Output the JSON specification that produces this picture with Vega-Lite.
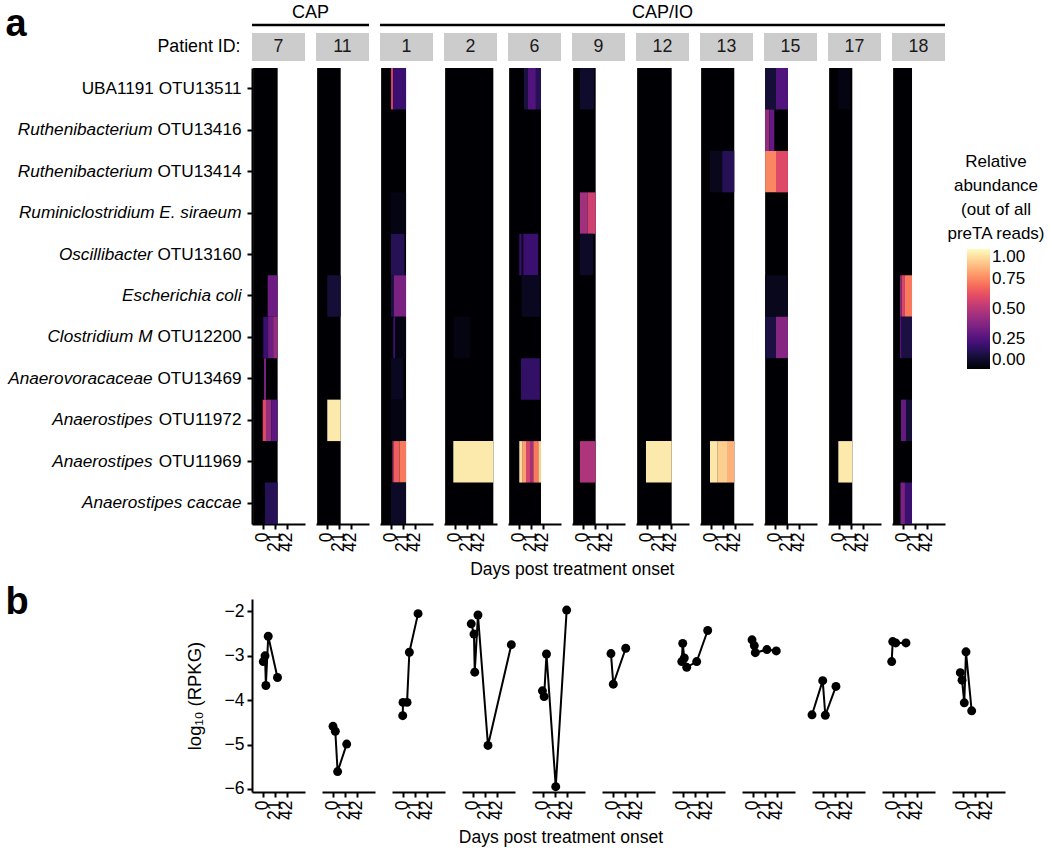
{
  "$schema": "https://vega.github.io/schema/vega-lite/v6.json",
  "padding": {"left": 5, "top": 0, "right": 0, "bottom": 0},
  "config": {
    "font": "Liberation Sans",
    "view": {"stroke": null},
    "axis": {"labelFont": "Liberation Sans", "titleFont": "Liberation Sans", "labelFontSize": 17.5, "titleFontSize": 18, "labelColor": "#000000", "titleColor": "#000000", "titleFontWeight": "normal", "domainColor": "#000000", "tickColor": "#000000", "domainWidth": 2, "tickWidth": 2, "tickSize": 5, "grid": false, "labelOverlap": false},
    "legend": {"titleFont": "Liberation Sans", "labelFont": "Liberation Sans", "titleFontSize": 17, "labelFontSize": 17, "titleFontWeight": "normal", "titleColor": "#000000", "labelColor": "#000000", "gradientLength": 120, "gradientThickness": 23, "titleAlign": "center", "titleAnchor": "middle", "titleLineHeight": 24, "titleLimit": 300, "titlePadding": 6, "labelOverlap": false},
    "title": {"font": "Liberation Sans", "fontWeight": "normal", "color": "#000000"}
  },
  "datasets": {
    "strips": [
      {"p": "7", "row": "strip"}, {"p": "11", "row": "strip"}, {"p": "1", "row": "strip"}, {"p": "2", "row": "strip"}, {"p": "6", "row": "strip"}, {"p": "9", "row": "strip"}, {"p": "12", "row": "strip"}, {"p": "13", "row": "strip"}, {"p": "15", "row": "strip"}, {"p": "17", "row": "strip"}, {"p": "18", "row": "strip"}
    ],
    "groups": [
      {"g": "CAP", "first": "7", "last": "11", "row": "group"},
      {"g": "CAP/IO", "first": "1", "last": "18", "row": "group"}
    ],
    "heat": [
      {"k": "bg", "p": "7", "d0": -17.5, "d1": 26, "v": 0},
      {"k": "bg", "p": "11", "d0": -17.5, "d1": 24.3, "v": 0},
      {"k": "bg", "p": "1", "d0": -17.5, "d1": 26.7, "v": 0},
      {"k": "bg", "p": "2", "d0": -17.5, "d1": 68, "v": 0},
      {"k": "bg", "p": "6", "d0": -17.5, "d1": 39, "v": 0},
      {"k": "bg", "p": "9", "d0": -17.5, "d1": 22.5, "v": 0},
      {"k": "bg", "p": "12", "d0": -17.5, "d1": 43.8, "v": 0},
      {"k": "bg", "p": "13", "d0": -17.5, "d1": 41.3, "v": 0},
      {"k": "bg", "p": "15", "d0": -17.5, "d1": 23, "v": 0},
      {"k": "bg", "p": "17", "d0": -17.5, "d1": 23.6, "v": 0},
      {"k": "bg", "p": "18", "d0": -17.5, "d1": 16, "v": 0},

      {"k": "c", "p": "7", "t": "Escherichia coli", "d0": 8.3, "d1": 26, "v": 0.32},
      {"k": "c", "p": "7", "t": "Clostridium M OTU12200", "d0": 0.5, "d1": 9, "v": 0.2},
      {"k": "c", "p": "7", "t": "Clostridium M OTU12200", "d0": 9, "d1": 18, "v": 0.32},
      {"k": "c", "p": "7", "t": "Clostridium M OTU12200", "d0": 18, "d1": 26, "v": 0.42},
      {"k": "c", "p": "7", "t": "Anaerovoracaceae OTU13469", "d0": 1.8, "d1": 5.3, "v": 0.35},
      {"k": "c", "p": "7", "t": "Anaerostipes OTU11972", "d0": -0.5, "d1": 5.3, "v": 0.6},
      {"k": "c", "p": "7", "t": "Anaerostipes OTU11972", "d0": 5.3, "d1": 15, "v": 0.42},
      {"k": "c", "p": "7", "t": "Anaerostipes OTU11972", "d0": 15, "d1": 26, "v": 0.28},
      {"k": "c", "p": "7", "t": "Anaerostipes caccae", "d0": 3.5, "d1": 26, "v": 0.15},

      {"k": "c", "p": "11", "t": "Escherichia coli", "d0": 0.5, "d1": 24.3, "v": 0.1},
      {"k": "c", "p": "11", "t": "Anaerostipes OTU11972", "d0": 0.5, "d1": 24.3, "v": 0.96},

      {"k": "c", "p": "1", "t": "UBA1191 OTU13511", "d0": 0, "d1": 4.1, "v": 0.56},
      {"k": "c", "p": "1", "t": "UBA1191 OTU13511", "d0": 4.1, "d1": 26.7, "v": 0.2},
      {"k": "c", "p": "1", "t": "Ruminiclostridium E. siraeum", "d0": 0, "d1": 26.7, "v": 0.03},
      {"k": "c", "p": "1", "t": "Oscillibacter OTU13160", "d0": 0, "d1": 24, "v": 0.15},
      {"k": "c", "p": "1", "t": "Escherichia coli", "d0": 0, "d1": 5, "v": 0.12},
      {"k": "c", "p": "1", "t": "Escherichia coli", "d0": 5, "d1": 26.7, "v": 0.35},
      {"k": "c", "p": "1", "t": "Clostridium M OTU12200", "d0": 4.1, "d1": 7.1, "v": 0.22},
      {"k": "c", "p": "1", "t": "Clostridium M OTU12200", "d0": 7.1, "d1": 26.7, "v": 0.03},
      {"k": "c", "p": "1", "t": "Anaerovoracaceae OTU13469", "d0": 0, "d1": 22, "v": 0.06},
      {"k": "c", "p": "1", "t": "Anaerostipes OTU11972", "d0": 0, "d1": 26.7, "v": 0.03},
      {"k": "c", "p": "1", "t": "Anaerostipes OTU11969", "d0": 2.5, "d1": 4.5, "v": 0.45},
      {"k": "c", "p": "1", "t": "Anaerostipes OTU11969", "d0": 4.5, "d1": 15, "v": 0.66},
      {"k": "c", "p": "1", "t": "Anaerostipes OTU11969", "d0": 15, "d1": 26.7, "v": 0.72},
      {"k": "c", "p": "1", "t": "Anaerostipes caccae", "d0": 0, "d1": 26.7, "v": 0.07},

      {"k": "c", "p": "2", "t": "Clostridium M OTU12200", "d0": -3, "d1": 26.6, "v": 0.03},
      {"k": "c", "p": "2", "t": "Anaerostipes OTU11969", "d0": -3, "d1": 68, "v": 0.96},

      {"k": "c", "p": "6", "t": "UBA1191 OTU13511", "d0": 8.9, "d1": 16, "v": 0.12},
      {"k": "c", "p": "6", "t": "UBA1191 OTU13511", "d0": 16, "d1": 30, "v": 0.25},
      {"k": "c", "p": "6", "t": "UBA1191 OTU13511", "d0": 30, "d1": 39, "v": 0.15},
      {"k": "c", "p": "6", "t": "Oscillibacter OTU13160", "d0": 0.5, "d1": 4.8, "v": 0.2},
      {"k": "c", "p": "6", "t": "Oscillibacter OTU13160", "d0": 4.8, "d1": 7.6, "v": 0.05},
      {"k": "c", "p": "6", "t": "Oscillibacter OTU13160", "d0": 7.6, "d1": 34, "v": 0.2},
      {"k": "c", "p": "6", "t": "Escherichia coli", "d0": 4.8, "d1": 37, "v": 0.06},
      {"k": "c", "p": "6", "t": "Anaerovoracaceae OTU13469", "d0": 3.5, "d1": 37, "v": 0.18},
      {"k": "c", "p": "6", "t": "Anaerostipes OTU11969", "d0": 0.5, "d1": 6.6, "v": 0.93},
      {"k": "c", "p": "6", "t": "Anaerostipes OTU11969", "d0": 6.6, "d1": 12.4, "v": 0.8},
      {"k": "c", "p": "6", "t": "Anaerostipes OTU11969", "d0": 12.4, "d1": 19.5, "v": 0.58},
      {"k": "c", "p": "6", "t": "Anaerostipes OTU11969", "d0": 19.5, "d1": 25.4, "v": 0.45},
      {"k": "c", "p": "6", "t": "Anaerostipes OTU11969", "d0": 25.4, "d1": 34.2, "v": 0.72},
      {"k": "c", "p": "6", "t": "Anaerostipes OTU11969", "d0": 34.2, "d1": 39, "v": 0.9},

      {"k": "c", "p": "9", "t": "UBA1191 OTU13511", "d0": -5.3, "d1": 19.5, "v": 0.08},
      {"k": "c", "p": "9", "t": "Ruminiclostridium E. siraeum", "d0": -5.3, "d1": 8, "v": 0.45},
      {"k": "c", "p": "9", "t": "Ruminiclostridium E. siraeum", "d0": 8, "d1": 22.5, "v": 0.56},
      {"k": "c", "p": "9", "t": "Oscillibacter OTU13160", "d0": -5.3, "d1": 18, "v": 0.07},
      {"k": "c", "p": "9", "t": "Anaerostipes OTU11969", "d0": -5.3, "d1": 22.5, "v": 0.48},

      {"k": "c", "p": "12", "t": "Anaerostipes OTU11969", "d0": -1.8, "d1": 43.8, "v": 0.96},

      {"k": "c", "p": "13", "t": "Ruthenibacterium OTU13414", "d0": -1.8, "d1": 20, "v": 0.05},
      {"k": "c", "p": "13", "t": "Ruthenibacterium OTU13414", "d0": 20, "d1": 41.3, "v": 0.15},
      {"k": "c", "p": "13", "t": "Anaerostipes OTU11969", "d0": -1.8, "d1": 12, "v": 0.95},
      {"k": "c", "p": "13", "t": "Anaerostipes OTU11969", "d0": 12, "d1": 30, "v": 0.9},
      {"k": "c", "p": "13", "t": "Anaerostipes OTU11969", "d0": 30, "d1": 41.3, "v": 0.84},

      {"k": "c", "p": "15", "t": "UBA1191 OTU13511", "d0": -17.5, "d1": 1.8, "v": 0.1},
      {"k": "c", "p": "15", "t": "UBA1191 OTU13511", "d0": 1.8, "d1": 23, "v": 0.25},
      {"k": "c", "p": "15", "t": "Ruthenibacterium OTU13416", "d0": -17.5, "d1": -10, "v": 0.42},
      {"k": "c", "p": "15", "t": "Ruthenibacterium OTU13416", "d0": -10, "d1": -1.2, "v": 0.3},
      {"k": "c", "p": "15", "t": "Ruthenibacterium OTU13414", "d0": -17.5, "d1": 1.8, "v": 0.75},
      {"k": "c", "p": "15", "t": "Ruthenibacterium OTU13414", "d0": 1.8, "d1": 23, "v": 0.6},
      {"k": "c", "p": "15", "t": "Escherichia coli", "d0": -17.5, "d1": 23, "v": 0.05},
      {"k": "c", "p": "15", "t": "Clostridium M OTU12200", "d0": -17.5, "d1": 1.8, "v": 0.12},
      {"k": "c", "p": "15", "t": "Clostridium M OTU12200", "d0": 1.8, "d1": 23, "v": 0.38},

      {"k": "c", "p": "17", "t": "UBA1191 OTU13511", "d0": -1.2, "d1": 19.5, "v": 0.03},
      {"k": "c", "p": "17", "t": "Anaerostipes OTU11969", "d0": -1.2, "d1": 23.6, "v": 0.96},

      {"k": "c", "p": "18", "t": "Escherichia coli", "d0": -5.3, "d1": -2.4, "v": 0.4},
      {"k": "c", "p": "18", "t": "Escherichia coli", "d0": -2.4, "d1": 3.5, "v": 0.58},
      {"k": "c", "p": "18", "t": "Escherichia coli", "d0": 3.5, "d1": 16, "v": 0.72},
      {"k": "c", "p": "18", "t": "Clostridium M OTU12200", "d0": -5.3, "d1": -2.4, "v": 0.25},
      {"k": "c", "p": "18", "t": "Clostridium M OTU12200", "d0": -2.4, "d1": 16, "v": 0.12},
      {"k": "c", "p": "18", "t": "Anaerostipes OTU11972", "d0": -3.5, "d1": 5.3, "v": 0.3},
      {"k": "c", "p": "18", "t": "Anaerostipes OTU11972", "d0": 5.3, "d1": 16, "v": 0.1},
      {"k": "c", "p": "18", "t": "Anaerostipes caccae", "d0": -4.5, "d1": 3.5, "v": 0.35},
      {"k": "c", "p": "18", "t": "Anaerostipes caccae", "d0": 3.5, "d1": 16, "v": 0.2}
    ],
    "rpkg": [
      {"p": "7", "day": 0.5, "val": -3.13}, {"p": "7", "day": 3.6, "val": -3.0}, {"p": "7", "day": 5.1, "val": -3.67}, {"p": "7", "day": 9.3, "val": -2.56}, {"p": "7", "day": 25.7, "val": -3.49},
      {"p": "11", "day": 0, "val": -4.59}, {"p": "11", "day": 4.1, "val": -4.7}, {"p": "11", "day": 8.2, "val": -5.61}, {"p": "11", "day": 24.3, "val": -4.99},
      {"p": "1", "day": -0.5, "val": -4.35}, {"p": "1", "day": 0, "val": -4.05}, {"p": "1", "day": 7.2, "val": -4.05}, {"p": "1", "day": 11.3, "val": -2.92}, {"p": "1", "day": 26.7, "val": -2.05},
      {"p": "2", "day": -3.1, "val": -2.28}, {"p": "2", "day": 1.7, "val": -2.51}, {"p": "2", "day": 3.1, "val": -3.37}, {"p": "2", "day": 8.8, "val": -2.08}, {"p": "2", "day": 26.6, "val": -5.02}, {"p": "2", "day": 68, "val": -2.75},
      {"p": "6", "day": -1, "val": -3.79}, {"p": "6", "day": 2, "val": -3.92}, {"p": "6", "day": 6.2, "val": -2.96}, {"p": "6", "day": 22.6, "val": -5.95}, {"p": "6", "day": 42, "val": -1.97},
      {"p": "9", "day": -3.6, "val": -2.95}, {"p": "9", "day": 0.5, "val": -3.64}, {"p": "9", "day": 22.6, "val": -2.83},
      {"p": "12", "day": -2.2, "val": -3.13}, {"p": "12", "day": -0.5, "val": -2.72}, {"p": "12", "day": 2.3, "val": -3.05}, {"p": "12", "day": 6.6, "val": -3.26}, {"p": "12", "day": 24.3, "val": -3.13}, {"p": "12", "day": 43.8, "val": -2.43},
      {"p": "13", "day": -1.7, "val": -2.64}, {"p": "13", "day": 2.3, "val": -2.77}, {"p": "13", "day": 4.1, "val": -2.93}, {"p": "13", "day": 24.7, "val": -2.86}, {"p": "13", "day": 41.3, "val": -2.89},
      {"p": "15", "day": -19.5, "val": -4.33}, {"p": "15", "day": -0.5, "val": -3.56}, {"p": "15", "day": 4.1, "val": -4.34}, {"p": "15", "day": 23, "val": -3.69},
      {"p": "17", "day": -2.3, "val": -3.13}, {"p": "17", "day": -0.5, "val": -2.68}, {"p": "17", "day": 4.8, "val": -2.71}, {"p": "17", "day": 23, "val": -2.71},
      {"p": "18", "day": -4.8, "val": -3.38}, {"p": "18", "day": -1.7, "val": -3.55}, {"p": "18", "day": 2.3, "val": -4.06}, {"p": "18", "day": 5.3, "val": -2.91}, {"p": "18", "day": 15.4, "val": -4.24}
    ]
  },
  "spacing": 4,
  "vconcat": [
    {
      "width": 693,
      "height": 64,
      "layer": [
        {
          "data": {"name": "strips"},
          "mark": {"type": "rect", "fill": "#cccccc"},
          "encoding": {
            "x": {"field": "p", "type": "nominal", "scale": {"domain": ["7", "11", "1", "2", "6", "9", "12", "13", "15", "17", "18"], "paddingInner": 0.171875, "paddingOuter": 0}, "axis": null},
            "y": {"field": "row", "type": "nominal", "scale": {"domain": ["group", "strip"], "paddingInner": 0.1515, "paddingOuter": 0.0455, "align": 0},
              "axis": {"title": "a", "labelExpr": "datum.value == 'strip' ? 'Patient ID:' : ''", "ticks": false, "domain": false, "labelPadding": 12, "labelFontSize": 17.8, "titleAngle": 0, "titleFontSize": 38, "titleFontWeight": "bold", "titleAlign": "left", "titleBaseline": "alphabetic", "titleX": -247, "titleY": 35}}
          }
        },
        {
          "data": {"name": "strips"},
          "mark": {"type": "text", "fontSize": 17.8, "color": "#1a1a1a"},
          "encoding": {
            "x": {"field": "p", "type": "nominal"},
            "y": {"field": "row", "type": "nominal"},
            "text": {"field": "p"}
          }
        },
        {
          "data": {"name": "groups"},
          "mark": {"type": "rule", "color": "#000000", "strokeWidth": 2.5},
          "encoding": {
            "x": {"field": "first", "type": "nominal", "bandPosition": 0},
            "x2": {"field": "last", "bandPosition": 1},
            "y": {"field": "row", "type": "nominal", "bandPosition": 0.89}
          }
        },
        {
          "data": {"name": "groups"},
          "transform": [{"filter": "datum.g == 'CAP'"}],
          "mark": {"type": "text", "fontSize": 18, "color": "#000000"},
          "encoding": {
            "x": {"field": "first", "type": "nominal", "bandPosition": 1.1038},
            "y": {"field": "row", "type": "nominal", "bandPosition": 0.45},
            "text": {"field": "g"}
          }
        },
        {
          "data": {"name": "groups"},
          "transform": [{"filter": "datum.g == 'CAP/IO'"}],
          "mark": {"type": "text", "fontSize": 18, "color": "#000000"},
          "encoding": {
            "x": {"field": "first", "type": "nominal", "bandPosition": 5.33},
            "y": {"field": "row", "type": "nominal", "bandPosition": 0.45},
            "text": {"field": "g"}
          }
        }
      ]
    },
    {
      "data": {"name": "heat"},
      "title": {"text": "Days post treatment onset", "orient": "bottom", "anchor": "middle", "fontSize": 17.5, "offset": 10, "dx": 96},
      "facet": {"column": {"field": "p", "type": "nominal", "sort": ["7", "11", "1", "2", "6", "9", "12", "13", "15", "17", "18"], "header": null}},
      "spacing": {"column": 11},
      "spec": {
        "width": 53,
        "height": 456,
        "layer": [
          {
            "transform": [{"filter": "datum.k == 'bg'"}],
            "mark": {"type": "rect"},
            "encoding": {
              "x": {"field": "d0", "type": "quantitative", "scale": {"domain": [-19.5, 74.5], "nice": false, "zero": false},
                "axis": {"orient": "bottom", "values": [0, 42], "labelAngle": -90, "labelPadding": 3, "labelFlush": false, "title": null}},
              "x2": {"field": "d1"},
              "color": {"field": "v", "type": "quantitative", "scale": {"scheme": "magma", "domain": [0, 1]},
                "legend": {"title": ["Relative", "abundance", "(out of all", "preTA reads)"], "orient": "none", "legendX": 695, "legendY": 154, "values": [0, 0.25, 0.5, 0.75, 1], "format": ".2f", "labelBaseline": "middle"}}
            }
          },
          {
            "transform": [{"filter": "datum.k == 'c'"}],
            "mark": {"type": "rect"},
            "encoding": {
              "x": {"field": "d0", "type": "quantitative",
                "axis": {"orient": "bottom", "values": [21], "domain": false, "labelAngle": -90, "labelPadding": 3, "labelFlush": false, "title": null}},
              "x2": {"field": "d1"},
              "y": {"field": "t", "type": "nominal", "scale": {"domain": ["UBA1191 OTU13511", "Ruthenibacterium OTU13416", "Ruthenibacterium OTU13414", "Ruminiclostridium E. siraeum", "Oscillibacter OTU13160", "Escherichia coli", "Clostridium M OTU12200", "Anaerovoracaceae OTU13469", "Anaerostipes OTU11972", "Anaerostipes OTU11969", "Anaerostipes caccae"], "paddingInner": 0, "paddingOuter": 0},
                "axis": {"orient": "left", "title": null, "labelPadding": 6, "labelFontSize": 17.2, "labelLimit": 300, "labelExpr": "datum.value == 'UBA1191 OTU13511' ? datum.value : (indexof(datum.value, 'OTU') > 0 ? substring(datum.value, indexof(datum.value, 'OTU')) : '')"}},
              "color": {"field": "v", "type": "quantitative",
                "legend": {"title": ["Relative", "abundance", "(out of all", "preTA reads)"], "orient": "none", "legendX": 695, "legendY": 154, "values": [0, 0.25, 0.5, 0.75, 1], "format": ".2f", "labelBaseline": "middle"}}
            }
          },
          {
            "transform": [{"filter": "datum.k == 'c'"}],
            "mark": {"type": "rect", "opacity": 0},
            "encoding": {
              "x": {"field": "d0", "type": "quantitative", "axis": null},
              "x2": {"field": "d1"},
              "y": {"field": "t", "type": "nominal",
                "axis": {"orient": "left", "title": null, "domain": false, "ticks": false, "labelFontStyle": "italic", "labelFontSize": 17.2, "labelLimit": 300,
                  "labelPadding": {"condition": {"test": "indexof(datum.value, 'OTU') > 0", "value": 100}, "value": 11},
                  "labelExpr": "datum.value == 'UBA1191 OTU13511' ? '' : (indexof(datum.value, 'OTU') > 0 ? substring(datum.value, 0, indexof(datum.value, 'OTU') - 1) : datum.value)"}}
            }
          }
        ],
        "resolve": {"axis": {"x": "independent", "y": "independent"}}
      }
    },
    {
      "data": {"name": "rpkg"},
      "title": {"text": "Days post treatment onset", "orient": "bottom", "anchor": "middle", "fontSize": 17.5, "offset": 10, "dx": 56},
      "facet": {"column": {"field": "p", "type": "nominal", "sort": ["7", "11", "1", "2", "6", "9", "12", "13", "15", "17", "18"], "header": null}},
      "spacing": {"column": 11},
      "spec": {
        "width": 53,
        "height": 193,
        "layer": [
          {
            "mark": {"type": "line", "color": "#000000", "strokeWidth": 2},
            "encoding": {
              "x": {"field": "day", "type": "quantitative", "scale": {"domain": [-19.5, 74.5], "nice": false, "zero": false},
                "axis": {"orient": "bottom", "values": [0, 42], "labelAngle": -90, "labelPadding": 3, "labelFlush": false, "title": null}},
              "y": {"field": "val", "type": "quantitative", "scale": {"domain": [-6.07, -1.72], "nice": false, "zero": false},
                "axis": {"orient": "left", "values": [-2, -3, -4, -5, -6], "title": "log₁₀ (RPKG)", "labelPadding": 3, "titlePadding": 20, "titleFontSize": 18.5}}
            }
          },
          {
            "mark": {"type": "circle", "color": "#000000", "size": 80, "opacity": 1},
            "encoding": {
              "x": {"field": "day", "type": "quantitative",
                "axis": {"orient": "bottom", "values": [21], "domain": false, "labelAngle": -90, "labelPadding": 3, "labelFlush": false, "title": null}},
              "y": {"field": "val", "type": "quantitative",
                "axis": {"orient": "left", "labels": false, "ticks": false, "domain": false, "title": "b", "titleAngle": 0, "titleFontSize": 38, "titleFontWeight": "bold", "titleAlign": "left", "titleBaseline": "alphabetic", "titleX": -247, "titleY": 14}}
            }
          }
        ],
        "resolve": {"axis": {"x": "independent", "y": "independent"}}
      }
    }
  ]
}
